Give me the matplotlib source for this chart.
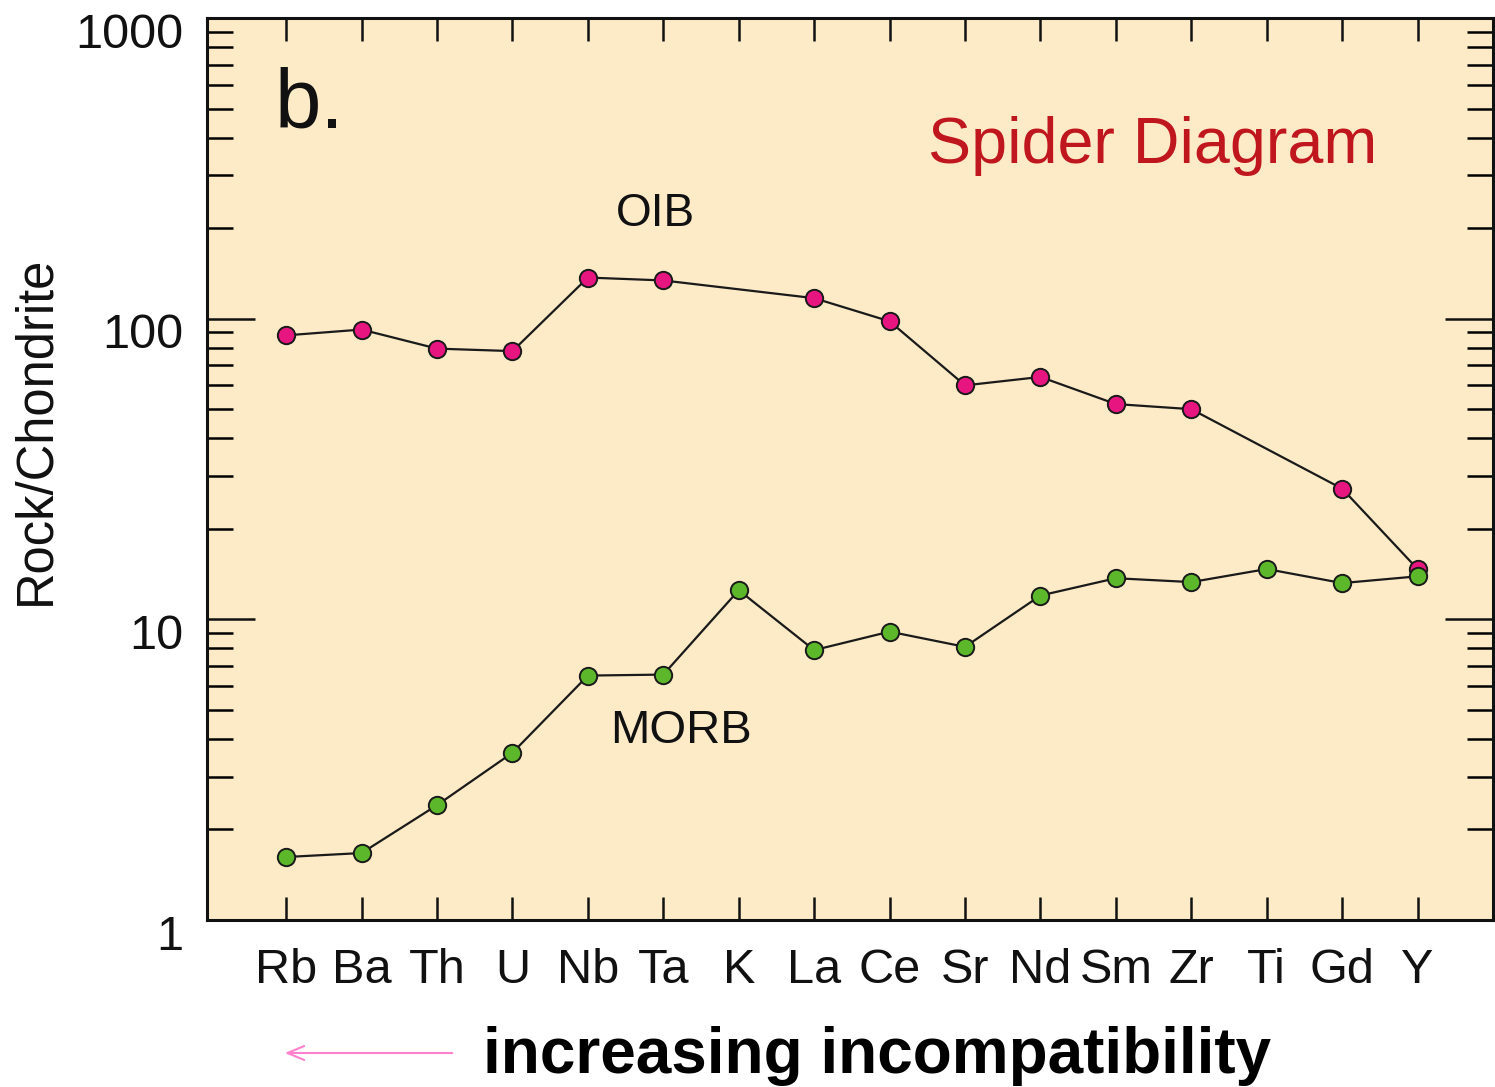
import matplotlib
matplotlib.use("Agg")
import matplotlib.pyplot as plt
from matplotlib.transforms import ScaledTranslation
from matplotlib.ticker import LogLocator, NullFormatter, FixedLocator
import numpy as np

plt.rcParams['font.family'] = ['Liberation Sans', 'DejaVu Sans']

# Trace elements, ordered by decreasing incompatibility
elements = ["Rb", "Ba", "Th", "U", "Nb", "Ta", "K", "La", "Ce", "Sr",
            "Nd", "Sm", "Zr", "Ti", "Gd", "Y"]

# Chondrite-normalised abundances (None = not analysed)
oib = [88, 92, 79.5, 78, 137, 134, None, 117, 98, 60,
       64, 52, 50, None, 27.2, 14.7]
morb = [1.62, 1.67, 2.41, 3.6, 6.5, 6.55, 12.5, 7.9, 9.1, 8.1,
        12.0, 13.7, 13.3, 14.7, 13.2, 13.9]

y_ticks = [1, 10, 100, 1000]
y_tick_labels = ["1", "10", "100", "1000"]

BG = "#fdebc8"
PINK = "#e6157f"
GREEN = "#5cb82a"
TITLE_RED = "#c0161e"
ARROW_PINK = "#ff80cc"

W, H = 1495, 1087
fig = plt.figure(figsize=(W / 100, H / 100), dpi=100)
ax = fig.add_axes([207 / W, 1 - 920 / H, (1493 - 207) / W, (920 - 18) / H])
ax.set_facecolor(BG)

x = np.arange(len(elements))


def series(vals):
    xs = [i for i, v in zip(x, vals) if v is not None]
    ys = [v for v in vals if v is not None]
    return xs, ys


for vals, col in [(oib, PINK), (morb, GREEN)]:
    xs, ys = series(vals)
    ax.plot(xs, ys, color="#1a1a1a", lw=1.6, zorder=2,
            marker="o", ms=12.5, mfc=col, mec="#1a1a1a", mew=1.4)

ax.set_yscale("log")
ax.set_ylim(1, 1000)
ax.set_xlim(-1.05, 16.0)

ax.yaxis.set_major_locator(FixedLocator(y_ticks))
ax.set_yticklabels(y_tick_labels)
ax.yaxis.set_minor_locator(LogLocator(base=10, subs=np.arange(2, 10)))
ax.yaxis.set_minor_formatter(NullFormatter())

ax.set_xticks(x)
ax.set_xticklabels(elements)

for sp in ax.spines.values():
    sp.set_linewidth(2.2)
    sp.set_color("#111111")

ax.tick_params(axis="y", which="major", direction="in", length=34.5, width=1.8,
               left=True, right=True, labelsize=35, pad=17, colors="#111111")
ax.tick_params(axis="y", which="minor", direction="in", length=18.5, width=1.8,
               left=True, right=True)
ax.tick_params(axis="x", which="major", direction="in", length=16.5, width=1.8,
               bottom=True, top=True, labelsize=35, pad=20, colors="#111111")
ax.tick_params(axis="x", which="minor", bottom=False, top=False)

# y tick labels sit slightly below their ticks
shift = ScaledTranslation(0, -12 / 100, fig.dpi_scale_trans)
for lab in ax.get_yticklabels():
    lab.set_transform(lab.get_transform() + shift)

# Axis title
fig.text(36 / W, 1 - 430 / H, "Rock/Chondrite", rotation=90, fontsize=36.5,
         ha="center", va="center", color="#111111")

# Annotations inside the plot
fig.text(275 / W, 1 - 128 / H, "b.", fontsize=60, ha="left", va="baseline",
         color="#111111")
fig.text(928 / W, 1 - 163 / H, "Spider Diagram", fontsize=46.5, ha="left",
         va="baseline", color=TITLE_RED)
fig.text(655 / W, 1 - 214 / H, "OIB", fontsize=33, ha="center", va="center",
         color="#111111")
fig.text(681 / W, 1 - 731 / H, "MORB", fontsize=34, ha="center", va="center",
         color="#111111")

# Caption with direction arrow
fig.text(483 / W, 1 - 1073 / H, "increasing incompatibility", fontsize=46,
         fontweight="bold", ha="left", va="baseline", color="black")
fig.add_artist(matplotlib.patches.FancyArrowPatch(
    (455 / W, 1 - 1053 / H), (282 / W, 1 - 1053 / H),
    transform=fig.transFigure, arrowstyle="->,head_length=12,head_width=5",
    color=ARROW_PINK, lw=1.5, mutation_scale=1))

fig.savefig("out.png", dpi=100, facecolor="white")
